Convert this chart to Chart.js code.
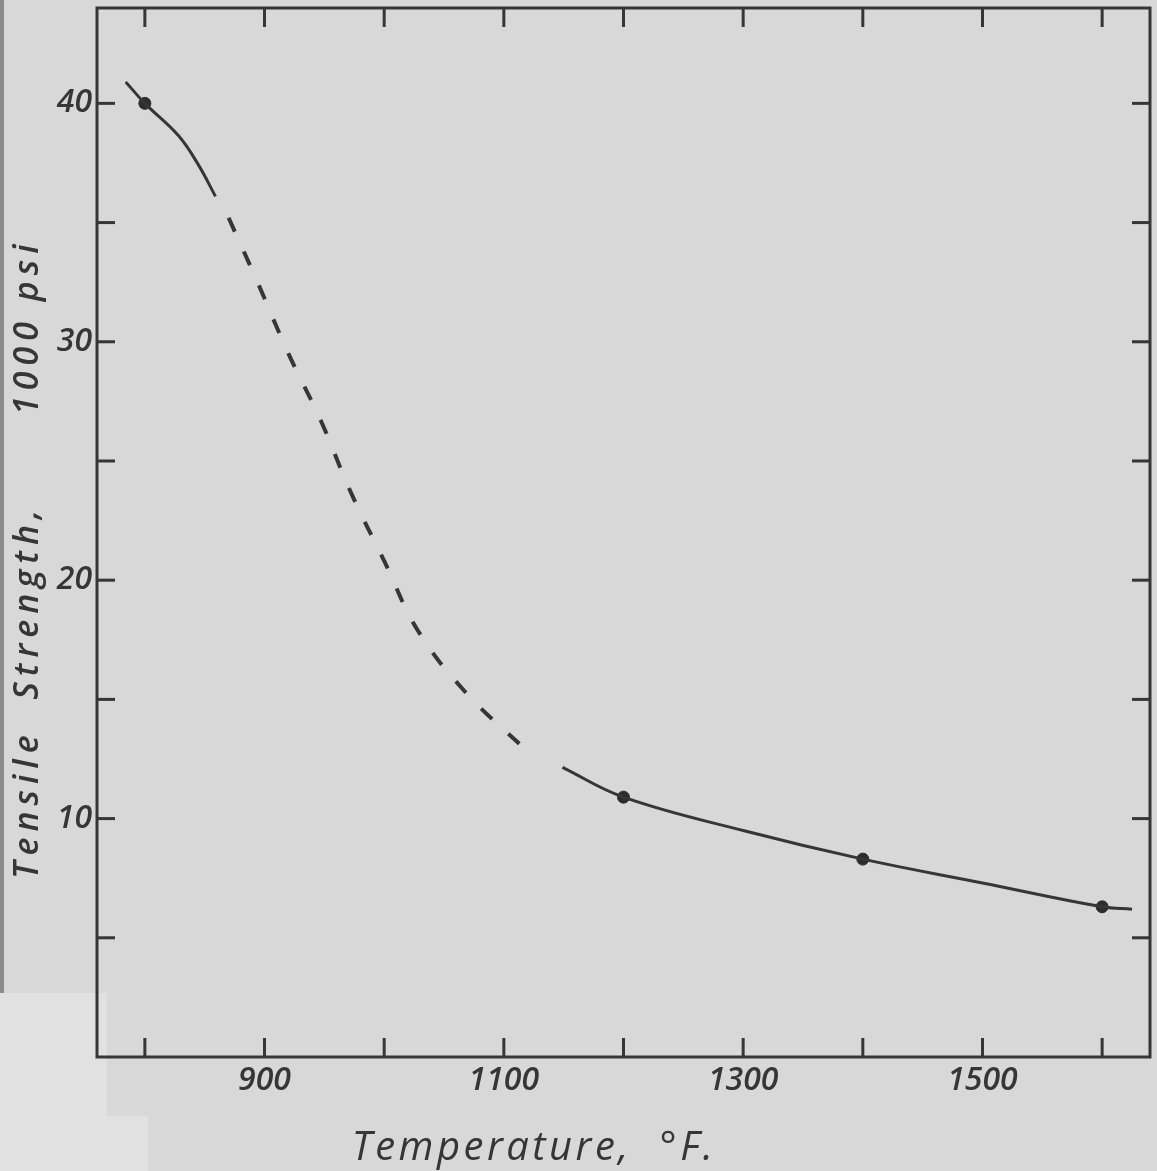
<!DOCTYPE html>
<html><head><meta charset="utf-8">
<script src="https://cdn.jsdelivr.net/npm/chart.js@4/dist/chart.umd.min.js"></script>
<style>
html,body{margin:0;padding:0;background:#d8d8d8;width:1157px;height:1171px;overflow:hidden;}
#wrap{position:relative;width:1157px;height:1171px;}
canvas{position:absolute;left:0;top:0;}
.patch{position:absolute;background:#e1e1e1;}
</style></head><body>
<div id="wrap">
<div class="patch" style="left:0;top:993px;width:107px;height:178px"></div>
<div class="patch" style="left:0;top:1116px;width:148px;height:55px"></div>
<div style="position:absolute;left:0;top:0;width:4px;height:993px;background:#8c8c8c"></div>
<canvas id="c" width="1157" height="1171"></canvas>
</div>
<script>
// ---- data ----
const upperT = [784, 800, 828, 845, 859];
const upperS = [40.9, 40.0, 38.65, 37.4, 36.1];
const dashedT = [870, 895, 920, 947, 972, 1001, 1028, 1068, 1118];
const dashedS = [35.2, 32.4, 29.5, 26.7, 23.7, 20.7, 17.9, 15.3, 12.9];
const lowerT = [1149, 1200, 1300, 1400, 1500, 1600, 1625];
const lowerS = [12.15, 10.9, 9.5, 8.3, 7.3, 6.3, 6.2];
const measuredT = [800, 1200, 1400, 1600];
const measuredS = [40.0, 10.9, 8.3, 6.3];
const xLabels = [900, 1100, 1300, 1500];
const yLabels = [10, 20, 30, 40];
const xTitle = 'Temperature,  °F.';
const yTitle = 'Tensile  Strength,      1000 psi';

const INK = '#363636';
const pts = (xs, ys) => xs.map((v, i) => ({x: v, y: ys[i]}));

const framePlugin = {
  id: 'frame',
  beforeDatasetsDraw(chart) {
    const {ctx, chartArea: a, scales: {x, y}} = chart;
    ctx.save();
    ctx.strokeStyle = INK;
    ctx.lineWidth = 3;
    ctx.strokeRect(a.left, a.top, a.right - a.left, a.bottom - a.top);
    const seg = (x1, y1, x2, y2) => { ctx.beginPath(); ctx.moveTo(x1, y1); ctx.lineTo(x2, y2); ctx.stroke(); };
    x.ticks.forEach(t => {
      const px = x.getPixelForValue(t.value);
      seg(px, a.top, px, a.top + 19);
      seg(px, a.bottom, px, a.bottom - 19);
    });
    y.ticks.forEach(t => {
      if (t.value <= 0) return;
      const py = y.getPixelForValue(t.value);
      seg(a.left, py, a.left + 18, py);
      seg(a.right, py, a.right - 18, py);
    });
    ctx.restore();
  },
  afterDraw(chart) {
    const {ctx, chartArea: a} = chart;
    ctx.save();
    ctx.fillStyle = INK;
    try { ctx.letterSpacing = '3.5px'; } catch (e) {}
    ctx.font = 'italic 500 40px "Open Sans"';
    ctx.textAlign = 'center';
    ctx.textBaseline = 'alphabetic';
    ctx.fillText(xTitle, a.left + 0.415 * (a.right - a.left), a.bottom + 103);
    ctx.restore();

    ctx.save();
    ctx.fillStyle = INK;
    try { ctx.letterSpacing = '6px'; } catch (e) {}
    ctx.font = 'italic 600 34px "Open Sans"';
    ctx.textAlign = 'center';
    ctx.textBaseline = 'alphabetic';
    ctx.translate(38, a.top + 0.525 * (a.bottom - a.top));
    ctx.rotate(-Math.PI / 2);
    ctx.fillText(yTitle, 0, 0);
    ctx.restore();
  }
};

const tickFont = {family: '"Open Sans"', size: 32, style: 'italic', weight: '600'};

new Chart(document.getElementById('c'), {
  type: 'scatter',
  data: {
    datasets: [
      {data: pts(upperT, upperS), showLine: true, borderColor: INK, borderWidth: 3, pointRadius: 0, tension: 0.4},
      {data: pts(dashedT, dashedS), showLine: true, borderColor: INK, borderWidth: 4, borderDash: [15, 22], pointRadius: 0, tension: 0.4},
      {data: pts(lowerT, lowerS), showLine: true, borderColor: INK, borderWidth: 3, pointRadius: 0, tension: 0.4},
      {data: pts(measuredT, measuredS), showLine: false, pointRadius: 6, pointBackgroundColor: '#2c2c2c', pointBorderColor: '#2c2c2c', pointBorderWidth: 1}
    ]
  },
  options: {
    responsive: false,
    animation: false,
    devicePixelRatio: 1,
    layout: {padding: {top: 8, right: 2, left: 0, bottom: 0}},
    plugins: {legend: {display: false}, tooltip: {enabled: false}},
    scales: {
      x: {
        type: 'linear', min: 760, max: 1640,
        grid: {display: false, drawTicks: false},
        border: {display: false},
        ticks: {
          stepSize: 100, includeBounds: false, autoSkip: false, maxRotation: 0,
          padding: 5, color: INK, font: tickFont,
          callback: v => xLabels.includes(v) ? String(v) : ''
        },
        afterFit: s => { s.height = 114; s.paddingLeft = 0; s.paddingRight = 0; }
      },
      y: {
        type: 'linear', min: 0, max: 44,
        grid: {display: false, drawTicks: false},
        border: {display: false},
        ticks: {
          stepSize: 5, includeBounds: false, autoSkip: false,
          padding: 5, color: INK, font: tickFont,
          callback: v => yLabels.includes(v) ? String(v) : ''
        },
        afterFit: s => { s.width = 97; s.paddingTop = 0; s.paddingBottom = 0; }
      }
    }
  },
  plugins: [framePlugin]
});
</script>
</body></html>
